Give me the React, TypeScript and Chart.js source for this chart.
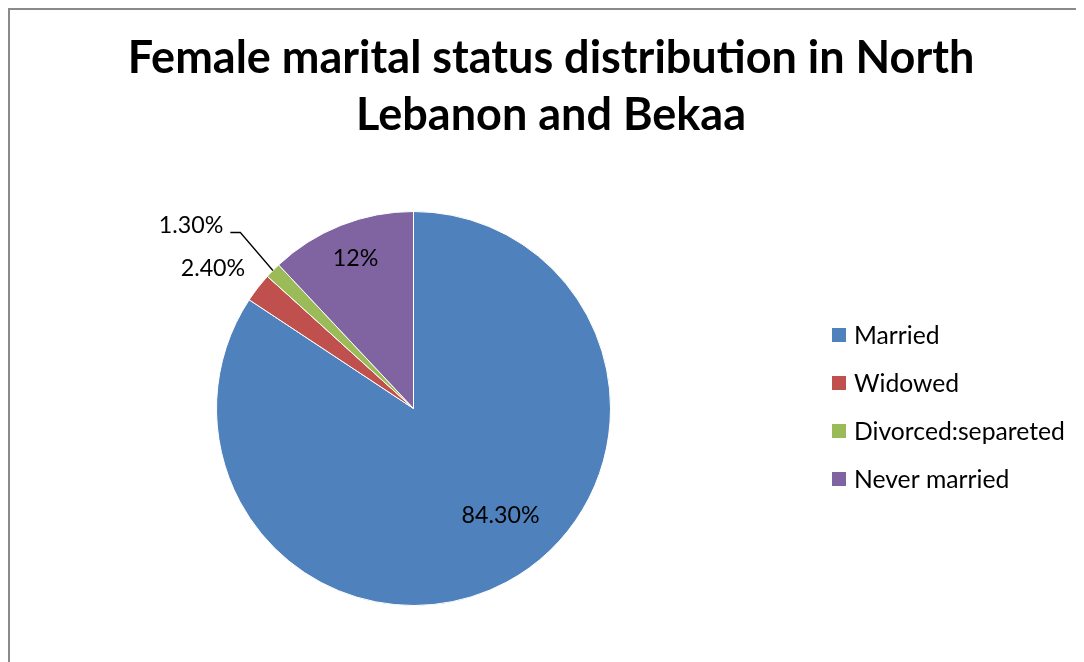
import React, { useEffect, useRef } from "react";
import { Chart, registerables } from "chart.js";

Chart.register(...registerables);

const TITLE_LINES = ["Female marital status distribution in North", "Lebanon and Bekaa"];
const CATEGORIES = ["Married", "Widowed", "Divorced:separeted", "Never married"];
const VALUES = [84.3, 2.4, 1.3, 12];
const VALUE_LABELS = ["84.30%", "2.40%", "1.30%", "12%"];
const COLORS = ["#4F81BD", "#C0504D", "#9BBB59", "#8064A2"];

// label placement relative to pie centre, in units of the radius
const LABEL_OFFSETS: [number, number][] = [
  [0.442, 0.543],
  [-1.018, -0.711],
  [-1.129, -0.929],
  [-0.294, -0.761],
];
const LEADER = [false, false, true, false];

function fitFont(ctx: CanvasRenderingContext2D, text: string, target: number, weight: string, family: string) {
  ctx.font = `${weight} 100px ${family}`;
  const w = ctx.measureText(text).width;
  return (100 * target) / w;
}

const overlay = {
  id: "overlay",
  afterDraw(chart: any) {
    const ctx: CanvasRenderingContext2D = chart.ctx;
    const fam = "Lato, 'Open Sans', sans-serif";
    ctx.save();
    // title
    const ts = fitFont(ctx, TITLE_LINES[0], 847, "bold", fam);
    ctx.font = `bold ${ts}px ${fam}`;
    ctx.fillStyle = "#000";
    ctx.textAlign = "center";
    ctx.textBaseline = "alphabetic";
    ctx.fillText(TITLE_LINES[0], 541, 63);
    ctx.fillText(TITLE_LINES[1], 541, 120);

    // data labels
    const meta = chart.getDatasetMeta(0);
    const ls = fitFont(ctx, "84.30%", 78, "normal", fam);
    ctx.font = `normal ${ls}px ${fam}`;
    ctx.textBaseline = "middle";
    meta.data.forEach((arc: any, i: number) => {
      const { x, y, outerRadius, startAngle, endAngle } = arc.getProps(
        ["x", "y", "outerRadius", "startAngle", "endAngle"],
        true
      );
      const lx = x + LABEL_OFFSETS[i][0] * outerRadius;
      const ly = y + LABEL_OFFSETS[i][1] * outerRadius;
      ctx.fillStyle = "#000";
      ctx.textAlign = "center";
      ctx.fillText(VALUE_LABELS[i], lx, ly);
      if (LEADER[i]) {
        const w = ctx.measureText(VALUE_LABELS[i]).width;
        const mid = (startAngle + endAngle) / 2;
        const sx = lx + w / 2 + 7;
        const sy = ly + 7;
        ctx.strokeStyle = "#000";
        ctx.lineWidth = 1.3;
        ctx.beginPath();
        ctx.moveTo(sx, sy);
        ctx.lineTo(sx + 10, sy);
        ctx.lineTo(x + outerRadius * Math.cos(mid), y + outerRadius * Math.sin(mid));
        ctx.stroke();
      }
    });

    // legend
    const gs = fitFont(ctx, "Divorced:separeted", 211, "normal", fam);
    ctx.font = `normal ${gs}px ${fam}`;
    ctx.textAlign = "left";
    ctx.textBaseline = "middle";
    CATEGORIES.forEach((c, i) => {
      const cy = 325 + i * 48;
      ctx.fillStyle = COLORS[i];
      ctx.fillRect(822, cy - 7, 14, 14);
      ctx.fillStyle = "#000";
      ctx.fillText(c, 844, cy + 1);
    });
    ctx.restore();
  },
};

export default function App() {
  const ref = useRef<HTMLCanvasElement>(null);
  useEffect(() => {
    if (!ref.current) return;
    const chart = new Chart(ref.current, {
      type: "pie",
      data: {
        labels: CATEGORIES,
        datasets: [
          {
            data: VALUES,
            backgroundColor: COLORS,
            borderColor: "#ffffff",
            borderWidth: 1,
          },
        ],
      },
      options: {
        animation: false,
        responsive: true,
        maintainAspectRatio: false,
        layout: { padding: { left: 206, top: 201, right: 473, bottom: 56 } },
        plugins: {
          legend: { display: false },
          title: { display: false },
          tooltip: { enabled: false },
        },
      },
      plugins: [overlay],
    });
    return () => chart.destroy();
  }, []);
  return (
    <div
      style={{
        width: 1076,
        height: 654,
        boxSizing: "border-box",
        borderLeft: "2px solid #8a8a8a",
        borderTop: "2px solid #8a8a8a",
        background: "#fff",
      }}
    >
      <div style={{ position: "relative", width: 1074, height: 652 }}>
        <canvas ref={ref} />
      </div>
    </div>
  );
}
